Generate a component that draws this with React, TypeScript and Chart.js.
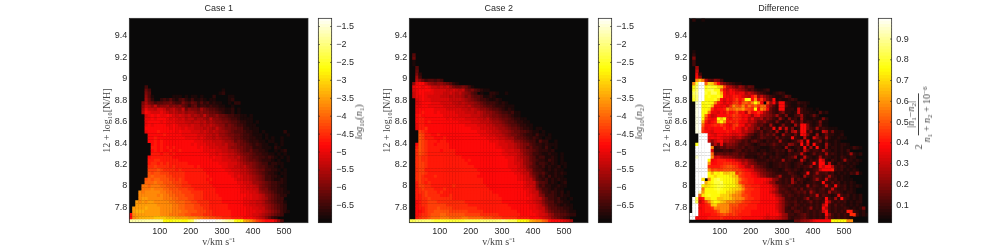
import React, { useEffect, useRef } from "react";
import { Chart, registerables } from "chart.js";

Chart.register(...registerables);

const xTicks = [100, 200, 300, 400, 500];
const yTicks = [7.8, 8, 8.2, 8.4, 8.6, 8.8, 9, 9.2, 9.4];
const logTicks = [-1.5, -2, -2.5, -3, -3.5, -4, -4.5, -5, -5.5, -6, -6.5];
const diffTicks = [0.1, 0.2, 0.3, 0.4, 0.5, 0.6, 0.7, 0.8, 0.9];
const titles = ["Case 1", "Case 2", "Difference"];

// Each string is one image row, top to bottom; each character is a colour-level (0-z).
const case1Rows = [
"","","","","","","","","","","","","","","","","","","","","",
"000003",
"00000530000000000000000000000010",
"00000640000000000000000000000120",
"00000741000000111010110100020000110",
"00000852002324213421311210110000120",
"0000696534455643364354242312110010220",
"00007a97a67786767542452332322110010",
"00008caa9bba89a87a5766586544322112010",
"00009dcbbbcba9a98978876766554321120100",
"00000bcdcdccdcbaba9a8987a76675543322110100",
"00000ccdcdddcbcbab9aa89987a7765543321111",
"00000cddddcdcccbbbaa9aa9a898776654432211010",
"00000cdcddddccdcbbbabaa9a9a987756543321110",
"00000ddddddddcdccbcbbaaa9a98a87665544221110",
"00000cdddedddddcdcccbbbaba9a98876544432211010000002",
"000000dddddedddddcccccbbbaa9a88766554332111010000001",
"000000ddedddddddddccccbcbaa9a9887655433221101010010",
"000000ddededdddddddddcccbbbaaa98875654322211011001",
"0000000dededddddddddcdcccbbbaa9a887655432321100101",
"0000000eededededddddddcdccbbbaaa87766544222111021",
"0000000dededdeddedddddddccccbbaa9987654533221001012",
"0000000eeedeededddddddddddccbcbbaa98766543322110101",
"000000deeeeeeeddddddddddddcdccbbaa9a8765443323210101",
"000000eeffeeeeeedddddddddddcccbbbaa98765543222101001",
"000000effefefeeeeeeddddddddddcccbbba98776543312211",
"000000ffgffffefeeeeeededddddddccbbaa9a876544322101",
"000000ggghgffffefeeeeeeedddddddccbbbaa9876553322101",
"000000hghhgggfffffeeeeeeedddddddccbbaa98765432210110",
"000000hihhhhggffffeeeeeeeedddddddcbcbaa987653322101",
"00000hihiihhhggfgfeeeeeeededddddddcbbaa987653321121",
"00000iiijiihhhgggffeeeeeeedddddddddccbba88765433221",
"0000jjijjjiihhhggfffeeeeeeedddddddddccbba9765433211",
"0000jjjkjjjiihhhgggffeeeeeeeddddddddccbbaa766433221",
"000kjkkkkkjjiihhhgggffffeeeeddddddddcccbba8765432211",
"000kkkkkkjkjjiihhhgggfffeeeeedddddddddccbba97654322",
"000kllkkkkkjjjiihhhggfffeeeeeedddddddcccbba9865433",
"00lklkllkkkkkjjiiihhggffffeeeedddddddccbbaa97654331",
"00lllllllkkkkkjjiihhhggfffeeeeeedddddccbbaa98765432",
"0llllmllllkkkkjjiihhhgggffeeeeeeddddddccbbaa8765432",
"0lmmmlllllkkkkjjjiihhhgggffeeeeeedddddcccbba98765321",
"dkllllllllkkkjjjiihhggggfffeeeeeedddddccbba9876543",
"dklmmmmmnnnnmmmllllkkkjjiihhggfffeeeedddcba97532",
"wwwwwwwwwwvqqqrrrqqstxyzzzzzyyxwvvrqqmlkigfedddb84",
];

const case2Rows = [
"","","","","","","","","","","",
"04",
"05",
"01",
"01",
"004",
"005",
"0062",
"0083",
"00975344343",
"07cdda8767765421",
"0cddcdcaa9a9a865565310",
"0bcddddcbbbbaaba9a65643211",
"0acddcccbbbaaba9a8764301002210010",
"0accdcbbbbaaa9a9986754431121",
"00bcdccbbbbbbaaaa98765433211210",
"00bcdddcccbbbbaa9a98876543332121",
"00ccddcccccbbbbaaa9a87765443222111",
"00cdddddccccbbbbbaa9a98776544321210",
"00cdedddcdcccccbbbaaa9a9877654332311",
"00dedddddddcccccbbbbaaa98876654432110",
"00deedddddddcdccccbbbbaa9a877655432211",
"00deededddddddddccccbbbaaa98876544322110",
"00ceedddddddddddddccccbbbaa9887654432211",
"00ceefddddddddddddddcccbbbaa988765543221011",
"000gfeddddddddddddddddcccbbaa98876554432110100",
"000hgeeddedddddddddddddcccbbaa9876654322131101",
"000hgeeedddedddddddddddddcccbaa9886554323210110",
"000hgfeeedeeddddddddddddddcccbbaa977654331422001",
"00dhgfeedeeeedddddddddddddddcbbbaa987664322121110",
"00ehgfeeeeeeedddddddddddddddccbbaa98764533213101",
"00fhgfeeeedeeeedddddddddddddddcbbbaa87654322212",
"00fhgfeeeeeeeeedddddddddddddddccbbba97653321121101",
"00fgffeeeeeeeeeeeddddddddddddddcccba98754233112101",
"00fgffeeeeeeeeeeeededdddddddddddccbaa8754322132101",
"00fggfeeeeeeeeeeeeedddddddddddddccbba87642332121011",
"00fggfeeeeeeeeeeeeeeedddddddddddcccba97543231211201",
"00fggeeeeeeeeeeeeeeeeedddddddddddccbba8743321212110",
"00fggfeeeeeeeeeeeeeeeeedddddddddddccbaa754342112121",
"00fgfeeefeeeeeeeeeeeeedddddddddddddccba864231312110",
"00fgffeeeeeeeeeeeeeeeeeedddddddddddccbaa74323121211",
"00egfefeeeeeeeeeeeeeeeeedddddddddddddcbaa6443121012",
"00eggffeeeeeeefeeeeeeeeeeddddddddddddcbba6342211211",
"00efgfffeeefeeeeeeeeeeeeeedddddddddddccba7533212110",
"00effgfffefeeeeeeeeeeeeeeeedddddddddddcbaa6432321201",
"00eefgffffeeefeeeeeeeeeeeeeeedddddddddccba7633321211",
"00eeffgfffffffeeeeeeeeeeeeeeeedddddddddcbaa7533231101",
"00deffgggfffffffffeeeeeeeeeeeeddddddddccba9754423211",
"00deffggggggfffffffeeeeeeeeeeeeedddddddccba8644321211",
"00deefggghggggffffffffeeeeeeeeeeeddddddccbaa754433221",
"00ddefgghhhhhggggggfffffeeeeeeeeeeedddddccba8654433211",
"00deffghhhiihhhhhhgggggffffffeeeeeeedddddcbba875544322",
"00efgghiiijjjiiiijjiiiiihhhgggfffffeeeedddcba9765432",
"ttuuuuutsssssssssstttttuuuuuuuvutttqqqpmlkkihedddcba8",
];

const diffRows = [
"02001","","","","","","","","","",
"01",
"02",
"06",
"03",
"03",
"008",
"00a",
"00c3",
"00d7",
"00knj954763",
"0kszzionid8643211",
"0quzzqsrronga97586354",
"0ruzzrstqqhcadb98753421123",
"0tvzzsqttqmdbddbcc8a86432101232",
"0suzzqrqqrodcceedba9dg7a753211253",
"0ruzzqqqrndbdcegdfqrdkbfa64d1211232",
"00xzqrqqkedbdcfgdhigkqld0g8d4dd32113221",
"00yzqqrnddcdbfkhgkfjgifiib742dd42112120",
"00yzqqpfcddekhikjlhgfqdkid532dd2221a321101",
"00yzqqjccbdcfdegcd9gcdfd97532462212a322110412",
"00yzqjdabdddeegfecdb8cd9876483261134821252",
"00yzqgdcdqnqedffecd9c879575328316231821121162",
"00yzmebdenqlefefdcc9a855743262132832623212611",
"00yziddefegedcfgdd9b8645328212622183dd6212511",
"00yzgcdcdddfddfdc9c88572433c2c3a2612dd6328232111",
"00yyfdcbddddedcdc9a8743523428216 28a3dd36121a825111".replace(" ", ""),
"000zzzdcbddcdcbbca854235353621833252dc621812522112",
"000zzzcdcdcbba89a75422354332 62322d321a21b6328211211".replace(" ", ""),
"000zzza7acd9a88653424532132328221236a2d1236131121",
"00rzzzz595c57765334321233235323276 32d3a1d32182121221".replace(" ", ""),
"00zzzzzk23546554342332211123221821232d281d21712212111321",
"00zzzzzb22233234423232122122323163132a52332832121213",
"00zzzzzi4554545534322232422132213233a3125232823212128212",
"00xzzzzkab988765452221232132321234812a3212823212132122",
"00zzzzqcdeeeddca97865322232322823212a41323da213212822121",
"00zzzzkddeefffeec9a7653332122323212341 23d3dd3a213212121".replace(" ", ""),
"00zzzzfeeefghhgfdc98a654321223232123233723dadd93232121",
"00zzzzkghgghhhggfedcb876533221243232132234addde32312121",
"00zzzzqmqpqnnoofhfeecb9765432222432123d23833423121213261",
"00zzzzqqoqqqqpnmgfeedca87543482224321832433238321211",
"00zzp0kqstrqqqpnjgfeeddddcb76323282432124832a32312111",
"00zzzmpqsstqqqpnhffeedddcb87332328423122322d3242312121",
"00zzqopqrssrqqqomiffeeedddc97433432322824323b32d32312121",
"00zzjqqqrsrqqpoonkgffeedddcb844323425234323423a3223121",
"00zwlqqqqrqqoonlkhffeeedddb974343234352842332834321221",
"00zipqrqqqooomkkjggfeeeddddc9743432323243a243212b3231212",
"0ztdeooqqnnoonlkkjgffeedddddb973323224823432d3282d321212",
"0ztadgkoqpnmkkkiigffeeedddddc974334232352323d83232312122",
"0zzddefnokkkkhhhfffeeeddddddb974324323232329d32423212121",
"0zzcdeefkjkkkhggffeeeeddddddb97324323237232d9323223212126",
"0zzddeeefhkkjhgffeeeddddddddc97332443232323ad323232ee3212",
"zzzddddeefghgfgfeeeedddddcdddb87332345323232d7323232ff3121",
"zzddddeeeefeeeeeedddddddcbccba87323345323232a53232321",
"000000000000000000000000000000000055788acdddddqqqqqkk",
];

const logRange = { min: -6.97, max: -1.27 };
const diffRange = { min: 0.015, max: 1.0 };
const xRange = { min: 2, max: 577, columnWidth: 9.93 };
const yRange = { min: 7.656, max: 9.565, rowCount: 64 };
const levelChars = "0123456789abcdefghijklmnopqrstuvwxyz";

function hot(t: number) {
  const c = Math.max(0, Math.min(1, t));
  const r = Math.min(1, c / 0.375);
  const g = Math.max(0, Math.min(1, (c - 0.375) / 0.375));
  const b = Math.max(0, (c - 0.75) / 0.25);
  return `rgb(${Math.round(10 + 245 * r)},${Math.round(8 + 247 * g)},${Math.round(8 + 247 * b)})`;
}

function cells(rows: string[], range: { min: number; max: number }) {
  const dy = (yRange.max - yRange.min) / yRange.rowCount;
  const out: { x: number; y: number; v: number }[] = [];
  rows.forEach((row, r) => {
    for (let c = 0; c < row.length; c++) {
      const level = levelChars.indexOf(row[c]);
      if (level <= 0) continue;
      out.push({
        x: xRange.min + (c + 0.5) * xRange.columnWidth,
        y: yRange.max - (r + 0.5) * dy,
        v: range.min + (level / 35) * (range.max - range.min),
      });
    }
  });
  return out;
}

const sansFont = { family: "'Liberation Sans', Arial, sans-serif", size: 9, weight: "normal" };
const serifFont = { family: "'Liberation Serif', serif", size: 10, weight: "normal" };
const textColor = "#2a2a2a";

const framePlugin = {
  id: "frame",
  beforeDatasetsDraw(chart: any) {
    const a = chart.chartArea;
    chart.ctx.save();
    chart.ctx.fillStyle = "rgb(10,9,9)";
    chart.ctx.fillRect(a.left, a.top, a.width, a.height);
    chart.ctx.restore();
  },
  afterDraw(chart: any) {
    const a = chart.chartArea;
    const ctx = chart.ctx;
    ctx.save();
    ctx.strokeStyle = "#2a2a2a";
    ctx.lineWidth = 0.7;
    ctx.strokeRect(a.left, a.top, a.width, a.height);
    const scale = chart.scales.y;
    if (chart.config.type === "bar") {
      scale.ticks.forEach((t: any) => {
        const y = scale.getPixelForValue(t.value);
        ctx.beginPath();
        ctx.moveTo(a.left, y);
        ctx.lineTo(a.left + 1.6, y);
        ctx.moveTo(a.right, y);
        ctx.lineTo(a.right - 1.6, y);
        ctx.stroke();
      });
    }
    ctx.restore();
  },
};

function heatConfig(rows: string[], range: { min: number; max: number }, title: string): any {
  const data = cells(rows, range);
  return {
    type: "scatter",
    data: {
      datasets: [
        {
          data,
          pointStyle: "rect",
          pointRadius: 2.47,
          pointBorderWidth: 0,
          pointBackgroundColor: data.map((d) => hot((d.v - range.min) / (range.max - range.min))),
        },
      ],
    },
    options: {
      animation: false,
      responsive: false,
      events: [],
      layout: { padding: { left: 0, right: 3, top: 0, bottom: 0 } },
      plugins: {
        legend: { display: false },
        tooltip: { enabled: false },
        title: {
          display: true,
          text: title,
          fullSize: false,
          color: textColor,
          font: sansFont,
          padding: { top: 3, bottom: 4.5 },
        },
      },
      scales: {
        x: {
          type: "linear",
          min: xRange.min,
          max: xRange.max,
          afterBuildTicks: (s: any) => { s.ticks = xTicks.map((value) => ({ value })); },
          afterFit: (s: any) => { s.height = 28.3; },
          grid: { display: false, drawTicks: false },
          border: { display: false },
          ticks: { font: sansFont, color: textColor, padding: 3, autoSkip: false, maxRotation: 0 },
          title: { display: true, text: "v/km s⁻¹", font: serifFont, color: "#444", padding: { top: 0, bottom: 3 } },
        },
        y: {
          type: "linear",
          min: yRange.min,
          max: yRange.max,
          afterBuildTicks: (s: any) => { s.ticks = yTicks.map((value) => ({ value })); },
          afterFit: (s: any) => { s.width = 29.3; },
          grid: { display: false, drawTicks: false },
          border: { display: false },
          ticks: { font: sansFont, color: textColor, padding: 2, autoSkip: false, callback: (v: number) => String(v) },
          title: { display: true, text: "12 + log₁₀[N/H]", font: serifFont, color: "#444", padding: { top: 1.5, bottom: 0 } },
        },
      },
    },
    plugins: [framePlugin],
  };
}

function barConfig(range: { min: number; max: number }, ticks: number[]): any {
  const n = 64;
  const step = (range.max - range.min) / n;
  const datasets = Array.from({ length: n }, (_, i) => ({
    data: [[range.min + i * step, range.min + (i + 1.15) * step]],
    backgroundColor: hot((i + 0.5) / n),
    borderWidth: 0,
    grouped: false,
    barPercentage: 1,
    categoryPercentage: 1,
  }));
  return {
    type: "bar",
    data: { labels: [""], datasets },
    options: {
      animation: false,
      responsive: false,
      events: [],
      layout: { padding: { left: 8.3, right: 0, top: 18.3, bottom: 28.3 } },
      plugins: { legend: { display: false }, tooltip: { enabled: false }, title: { display: false } },
      scales: {
        x: { display: false, grid: { display: false } },
        y: {
          position: "right",
          min: range.min,
          max: range.max,
          afterBuildTicks: (s: any) => { s.ticks = ticks.map((value) => ({ value })); },
          afterFit: (s: any) => { s.width = 38.3; },
          grid: { display: false, drawTicks: false },
          border: { display: false },
          ticks: {
            font: sansFont,
            color: textColor,
            padding: 4.5,
            autoSkip: false,
            callback: (v: number) => String(v).replace("-", "−"),
          },
        },
      },
    },
    plugins: [framePlugin],
  };
}

function ChartCanvas({ left, width, config }: { left: number; width: number; config: any }) {
  const ref = useRef<HTMLCanvasElement>(null);
  useEffect(() => {
    const chart = new Chart(ref.current as HTMLCanvasElement, config);
    return () => chart.destroy();
  }, []);
  return (
    <canvas
      ref={ref}
      width={width}
      height={251}
      style={{ position: "absolute", left, top: 0, width, height: 251, filter: "blur(0.4px)" }}
    />
  );
}

const rotated = (x: number, y: number): React.CSSProperties => ({
  position: "absolute",
  left: x,
  top: y,
  transform: "translate(-50%,-50%) rotate(-90deg)",
  fontFamily: "'Liberation Serif', serif",
  fontSize: 10,
  color: "#444",
  whiteSpace: "nowrap",
  lineHeight: 1,
  filter: "blur(0.2px)",
});
const subStyle: React.CSSProperties = { fontSize: 7, verticalAlign: "-2px", lineHeight: 0 };

export default function App() {
  const rowsByPanel = [case1Rows, case2Rows, diffRows];
  const ranges = [logRange, logRange, diffRange];
  const tickSets = [logTicks, logTicks, diffTicks];
  return (
    <div style={{ position: "fixed", left: 0, top: 0, width: 997, height: 251, background: "#fff", overflow: "hidden" }}>
      {titles.map((t, i) => (
        <React.Fragment key={t}>
          <ChartCanvas left={100 + 280 * i} width={212} config={heatConfig(rowsByPanel[i], ranges[i], t)} />
          <ChartCanvas left={310 + 280 * i} width={60} config={barConfig(ranges[i], tickSets[i])} />
        </React.Fragment>
      ))}
      <div style={rotated(359, 122)}>
        <i>log</i><span style={subStyle}>10</span>(<i>n</i><span style={subStyle}>1</span>)
      </div>
      <div style={rotated(639, 122)}>
        <i>log</i><span style={subStyle}>10</span>(<i>n</i><span style={subStyle}>2</span>)
      </div>
      <div style={{ ...rotated(919, 118), display: "flex", alignItems: "center", gap: 2 }}>
        <span>2</span>
        <span style={{ display: "inline-flex", flexDirection: "column", alignItems: "center" }}>
          <span style={{ borderBottom: "0.7px solid #444", padding: "0 8px 2px" }}>
            |<i>n</i><span style={subStyle}>1</span>−<i>n</i><span style={subStyle}>2</span>|
          </span>
          <span style={{ paddingTop: 3 }}>
            <i>n</i><span style={subStyle}>1</span> + <i>n</i><span style={subStyle}>2</span> + 10
            <span style={{ fontSize: 7, verticalAlign: "3px", lineHeight: 0 }}>−6</span>
          </span>
        </span>
      </div>
    </div>
  );
}
